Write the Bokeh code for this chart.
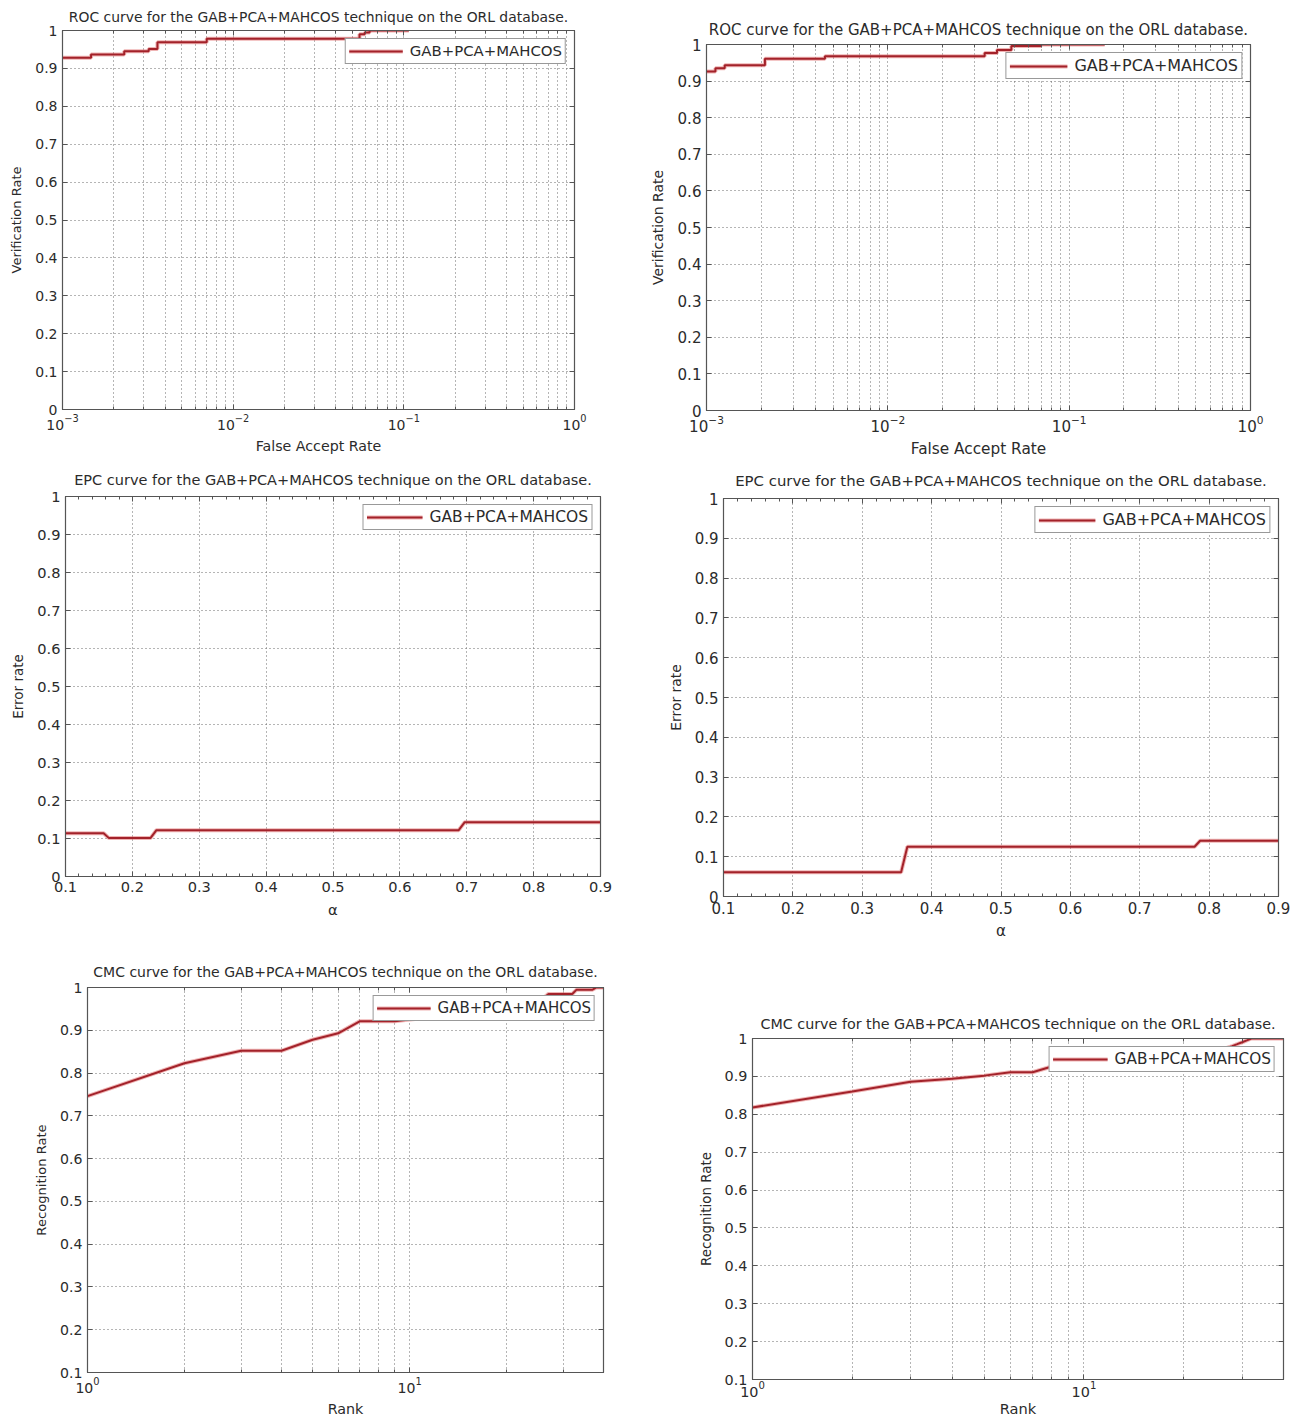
from bokeh.plotting import figure
from bokeh.models import (Range1d, FixedTicker, LogAxis, LinearAxis, Legend,
                          LegendItem, CustomJSTickFormatter)
from bokeh.layouts import column, row
from bokeh.embed import file_html
from bokeh.resources import INLINE

SERIES = "GAB+PCA+MAHCOS"

# ---------------- data ----------------
# ROC, left panel (step curve, FAR thresholds / verification rate)
roc_a_far = [0.001, 0.00147, 0.0023, 0.0032, 0.0036, 0.007, 0.055, 0.059, 0.063, 0.107]
roc_a_vr = [0.928, 0.937, 0.9455, 0.951, 0.969, 0.978, 0.99, 0.995, 1.0, 1.0]
# ROC, right panel
roc_b_far = [0.001, 0.00112, 0.00126, 0.0021, 0.0045, 0.0342, 0.040, 0.048, 0.07, 0.157]
roc_b_vr = [0.926, 0.935, 0.943, 0.961, 0.968, 0.977, 0.985, 0.996, 1.0, 1.0]

# EPC, left panel
epc_a_alpha = [0.1, 0.157, 0.165, 0.227, 0.236, 0.688, 0.697, 0.9]
epc_a_err = [0.114, 0.114, 0.101, 0.101, 0.122, 0.122, 0.143, 0.143]
# EPC, right panel
epc_b_alpha = [0.1, 0.356, 0.365, 0.779, 0.787, 0.9]
epc_b_err = [0.061, 0.061, 0.125, 0.125, 0.140, 0.140]

# CMC (rank 1..40)
cmc_rank = list(range(1, 41))
cmc_a_rate = [0.746, 0.823, 0.852, 0.852, 0.878, 0.893, 0.921, 0.921, 0.921, 0.925,
              0.928, 0.930, 0.935, 0.938, 0.940, 0.945, 0.948, 0.950, 0.953, 0.955,
              0.958, 0.960, 0.963, 0.965, 0.970, 0.975, 0.985, 0.985, 0.985, 0.985,
              0.985, 0.985, 0.995, 0.995, 0.995, 0.995, 0.995, 1.0, 1.0, 1.0]
cmc_b_rate = [0.818, 0.860, 0.886, 0.894, 0.902, 0.911, 0.911, 0.926, 0.930, 0.933,
              0.936, 0.940, 0.943, 0.945, 0.948, 0.950, 0.953, 0.955, 0.958, 0.960,
              0.962, 0.964, 0.966, 0.968, 0.970, 0.972, 0.975, 0.980, 0.985, 0.990,
              0.995, 1.0, 1.0, 1.0, 1.0, 1.0, 1.0, 1.0, 1.0, 1.0]

# tick positions
roc_major = [0.001, 0.01, 0.1, 1.0]
roc_minor = [m * 10.0 ** e for e in (-3, -2, -1) for m in range(2, 10)]
cmc_major = [1, 10]
cmc_minor = [2, 3, 4, 5, 6, 7, 8, 9, 20, 30, 40]
epc_major = [round(0.1 * i, 1) for i in range(1, 10)]
epc_minor = [round(0.1 + 0.02 * i, 2) for i in range(41) if i % 5]
y01 = [round(0.1 * i, 1) for i in range(0, 11)]
y11 = [round(0.1 * i, 1) for i in range(1, 11)]

# ---------------- style ----------------
FONT = "DejaVu Sans"
TXT = "#2b2b2b"
AX = "#555555"
GRID = "#6a6a6a"
CORE = "#a3222a"
HALO = "#e06a6a"

NUMFMT = "return Number(tick.toFixed(2)).toString();"


def build(kind, title, xlab, ylab, xs, ys, xr, yr, xmaj, xmin, ymaj, geom, fs,
          tstand, xstand, step=False, xminor_grid=True):
    w, h, bl, br, bt, bb = geom
    logx = kind in ("roc", "cmc")
    p = figure(width=w, height=h, x_axis_type="log" if logx else "linear",
               x_range=Range1d(*xr), y_range=Range1d(*yr),
               output_backend="svg", toolbar_location=None,
               min_border_left=bl, min_border_right=br,
               min_border_top=bt, min_border_bottom=bb,
               background_fill_color="white", border_fill_color="white")
    p.outline_line_color = AX
    p.outline_line_width = 1.2

    p.title.text = title
    p.title.align = "center"
    p.title.text_font = FONT
    p.title.text_font_size = f"{13.9 * fs:.1f}px"
    p.title.text_font_style = "normal"
    p.title.text_color = TXT
    p.title.standoff = tstand

    xt = FixedTicker(ticks=xmaj, minor_ticks=xmin)
    yt = FixedTicker(ticks=ymaj)

    xa = p.xaxis[0]
    ya = p.yaxis[0]
    xa.ticker = xt
    ya.ticker = yt
    if not logx:
        xa.formatter = CustomJSTickFormatter(code=NUMFMT)
    ya.formatter = CustomJSTickFormatter(code=NUMFMT)
    xa.axis_label = xlab
    ya.axis_label = ylab
    for a, lab_fs in ((xa, 14.2), (ya, 13.0)):
        a.axis_label_text_font = FONT
        a.axis_label_text_font_size = f"{lab_fs * fs:.1f}px"
        a.axis_label_text_font_style = "normal"
        a.axis_label_text_color = TXT
        a.major_label_text_font = FONT
        a.major_label_text_font_size = f"{14.0 * fs:.1f}px"
        a.major_label_text_color = TXT
        a.axis_line_color = AX
        a.major_tick_line_color = AX
        a.minor_tick_line_color = AX
        a.major_tick_in = 5
        a.major_tick_out = 0
        a.minor_tick_in = 3
        a.minor_tick_out = 0
    xa.major_label_standoff = xstand[0]
    xa.axis_label_standoff = xstand[1]
    ya.major_label_standoff = 5
    ya.axis_label_standoff = 8

    # tick marks on the top and right sides of the box
    top_cls = LogAxis if logx else LinearAxis
    extra = [(top_cls(ticker=xt), "above"), (LinearAxis(ticker=yt), "right")]
    for a, side in extra:
        a.major_label_text_font_size = "1px"
        a.major_label_text_alpha = 0
        a.major_label_standoff = 0
        a.axis_line_color = AX
        a.major_tick_line_color = AX
        a.minor_tick_line_color = AX
        a.major_tick_in = 5
        a.major_tick_out = 0
        a.minor_tick_in = 3
        a.minor_tick_out = 0
        p.add_layout(a, side)

    p.xgrid.ticker = xt
    p.ygrid.ticker = yt
    for g in (p.xgrid, p.ygrid):
        g.grid_line_color = GRID
        g.grid_line_dash = "1 3"
        g.grid_line_width = 1
    if xminor_grid:
        p.xgrid.minor_grid_line_color = GRID
        p.xgrid.minor_grid_line_dash = "1 3"
        p.xgrid.minor_grid_line_width = 1

    if step:
        halo = p.step(xs, ys, mode="after", line_color=HALO, line_width=4, line_alpha=0.5)
        core = p.step(xs, ys, mode="after", line_color=CORE, line_width=2)
    else:
        halo = p.line(xs, ys, line_color=HALO, line_width=4, line_alpha=0.5)
        core = p.line(xs, ys, line_color=CORE, line_width=2)

    leg = Legend(items=[LegendItem(label=SERIES, renderers=[halo, core])],
                 location="top_right", margin=8, padding=3, spacing=0,
                 glyph_width=int(54 * fs), glyph_height=10, label_height=10,
                 label_standoff=7, label_text_font=FONT,
                 label_text_font_size=f"{14.9 * fs:.1f}px", label_text_color=TXT,
                 border_line_color="#333333", border_line_width=1,
                 background_fill_color="white", background_fill_alpha=1.0)
    p.add_layout(leg)
    return p


ROC_T = "ROC curve for the GAB+PCA+MAHCOS technique on the ORL database."
EPC_T = "EPC curve for the GAB+PCA+MAHCOS technique on the ORL database."
CMC_T = "CMC curve for the GAB+PCA+MAHCOS technique on the ORL database."

# geometry: (width, height, border left, right, top, bottom)
p1 = build("roc", ROC_T, "False Accept Rate", "Verification Rate", roc_a_far, roc_a_vr,
           (0.001, 1.0), (0, 1), roc_major, roc_minor, y01,
           (640, 460, 62, 66, 30, 51), 1.0, 12, (4, 5), step=True)
p2 = build("roc", ROC_T, "False Accept Rate", "Verification Rate", roc_b_far, roc_b_vr,
           (0.001, 1.0), (0, 1), roc_major, roc_minor, y01,
           (662, 460, 66, 52, 44, 49), 1.076, 12, (4, 5), step=True)
p3 = build("epc", EPC_T, "α", "Error rate", epc_a_alpha, epc_a_err,
           (0.1, 0.9), (0, 1), epc_major, epc_minor, y01,
           (660, 490, 65, 60, 36, 74), 1.04, 17, (5, 6), xminor_grid=False)
p4 = build("epc", EPC_T, "α", "Error rate", epc_b_alpha, epc_b_err,
           (0.1, 0.9), (0, 1), epc_major, epc_minor, y01,
           (642, 490, 63, 24, 37, 54), 1.072, 18, (5, 5), xminor_grid=False)
p5 = build("cmc", CMC_T, "Rank", "Recognition Rate", cmc_rank, cmc_a_rate,
           (1, 40), (0.1, 1), cmc_major, cmc_minor, y11,
           (680, 469, 87, 77, 37, 47), 1.008, 16, (4, 5))
p6 = build("cmc", CMC_T, "Rank", "Recognition Rate", cmc_rank, cmc_b_rate,
           (1, 40), (0.1, 1), cmc_major, cmc_minor, y11,
           (622, 469, 72, 19, 88, 40), 1.03, 14, (1, 0))

layout = column(
    row(column(p1), column(p2)),
    row(column(p3), column(p4)),
    row(column(p5), column(p6)),
)

with open("out.html", "w") as f:
    f.write(file_html(layout, INLINE))
